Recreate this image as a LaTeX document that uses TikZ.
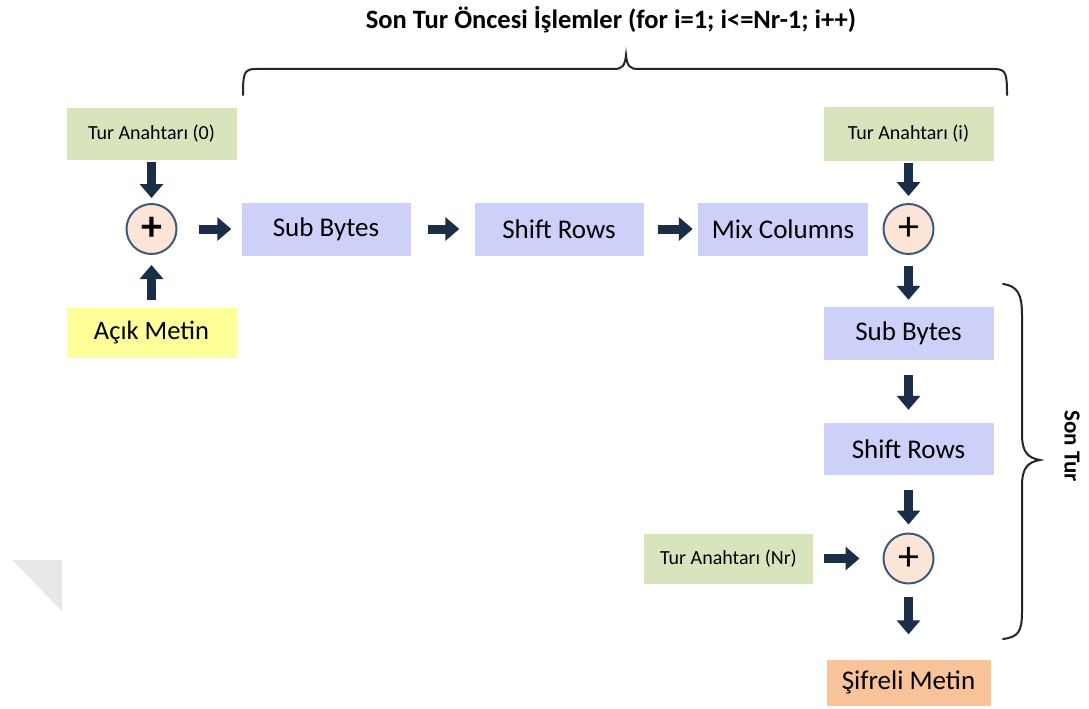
\documentclass[tikz,border=0pt]{standalone}
\usepackage{fontspec}
\setmainfont{Carlito}
\usetikzlibrary{arrows.meta}
\definecolor{keygreen}{HTML}{D8E4BC}
\definecolor{steplav}{HTML}{CDD0F8}
\definecolor{plainyel}{HTML}{FFFF99}
\definecolor{cipherorg}{HTML}{F9C39A}
\definecolor{xorfill}{HTML}{FCE4D6}
\definecolor{xorline}{HTML}{3C5A7C}
\definecolor{arrownavy}{HTML}{1B2E48}
\tikzset{
  keybox/.style={fill=keygreen, minimum width=170pt, minimum height=52pt, inner sep=0pt,
    font=\fontsize{20}{24}\selectfont},
  stepbox/.style={fill=steplav, minimum width=169pt, minimum height=53pt, inner sep=0pt,
    font=\fontsize{27}{32}\selectfont},
  xorop/.style={circle, fill=xorfill, draw=xorline, line width=2pt, minimum size=50pt, inner sep=0pt,
    font=\fontsize{42}{42}\selectfont},
  flow/.style={draw=arrownavy, line width=9pt, -{Triangle[width=23pt,length=14pt]}},
  bracepath/.style={draw=black!85, line width=2pt, line cap=round}
}
\begin{document}
\begin{tikzpicture}[x=1pt,y=-1pt]
\useasboundingbox (0,0) rectangle (1089,709);
\fill[white] (0,0) rectangle (1089,709);
% faint corner mark at the left edge
\fill[black!9] (12,560) -- (62,560) -- (62,611) -- cycle;

% title and its brace
\node[font=\fontsize{26.5}{30}\selectfont\bfseries] (title) at (611,20)
  {Son Tur Öncesi İşlemler (for i=1; i<=Nr-1; i++)};
\draw[bracepath] (243,95) .. controls (243,73) and (244,69) .. (256,69) -- (614,69)
  .. controls (622,69) and (625,66) .. (626,55) .. controls (627,66) and (630,69) .. (638,69)
  -- (994,69) .. controls (1006,69) and (1007,73) .. (1007,95);

% left column: initial key addition
\node[keybox] (key0) at (151.5,133.5) {Tur Anahtarı (0)};
\node[xorop, font=\fontsize{42}{42}\selectfont\bfseries] (c0) at (151.5,229) {+};
\node[keybox, fill=plainyel, minimum height=50pt, font=\fontsize{26.5}{30}\selectfont] (plain) at (151.5,333) {Açık Metin};

% main round
\node[stepbox] (sb1) at (326,229) {Sub Bytes};
\node[stepbox] (sr1) at (559,229) {Shift Rows};
\node[stepbox, minimum width=170pt] (mc) at (783,229) {Mix Columns};
\node[keybox, minimum height=54pt] (keyi) at (908.5,134) {Tur Anahtarı (i)};
\node[xorop] (c1) at (908.5,229) {+};

% final round
\node[stepbox, minimum width=170pt] (sb2) at (908.5,333.5) {Sub Bytes};
\node[stepbox, minimum width=170pt, minimum height=52pt] (sr2) at (908.5,449) {Shift Rows};
\node[xorop] (c2) at (908.5,558.5) {+};
\node[keybox, minimum width=169pt, minimum height=50pt] (keynr) at (728.5,558.5) {Tur Anahtarı (Nr)};
\node[stepbox, fill=cipherorg, minimum width=164pt, minimum height=46pt] (cipher) at (908.5,682.5) {Şifreli Metin};

% data flow
\draw[flow, shorten <=2pt, shorten >=5pt] (key0.south) -- (c0.north);
\draw[flow, shorten <=8pt, shorten >=10pt] (plain.north) -- (c0.south);
\draw[flow, shorten <=21pt, shorten >=10pt] (c0.east) -- (sb1.west);
\draw[flow, shorten <=17pt, shorten >=15pt] (sb1.east) -- (sr1.west);
\draw[flow, shorten <=14pt, shorten >=5pt] (sr1.east) -- (mc.west);
\draw[flow, shorten <=2pt, shorten >=7pt] (keyi.south) -- (c1.north);
\draw[flow, shorten <=11pt, shorten >=7pt] (c1.south) -- (sb2.north);
\draw[flow, shorten <=15pt, shorten >=13pt] (sb2.south) -- (sr2.north);
\draw[flow, shorten <=15pt, shorten >=8pt] (sr2.south) -- (c2.north);
\draw[flow, shorten <=11pt, shorten >=23pt] (keynr.east) -- (c2.west);
\draw[flow, shorten <=12pt, shorten >=25pt] (c2.south) -- (cipher.north);

% brace over the final round
\draw[bracepath] (1003,284) .. controls (1018,286) and (1022,295) .. (1022,315) -- (1022,435)
  .. controls (1022,452) and (1028,458) .. (1040,460) .. controls (1028,462) and (1022,468) .. (1022,485)
  -- (1022,612) .. controls (1022,632) and (1018,637) .. (1003,639);
\node[font=\fontsize{23}{26}\selectfont\bfseries, rotate=-90] (lastround) at (1072,446) {Son Tur};
\end{tikzpicture}
\end{document}
